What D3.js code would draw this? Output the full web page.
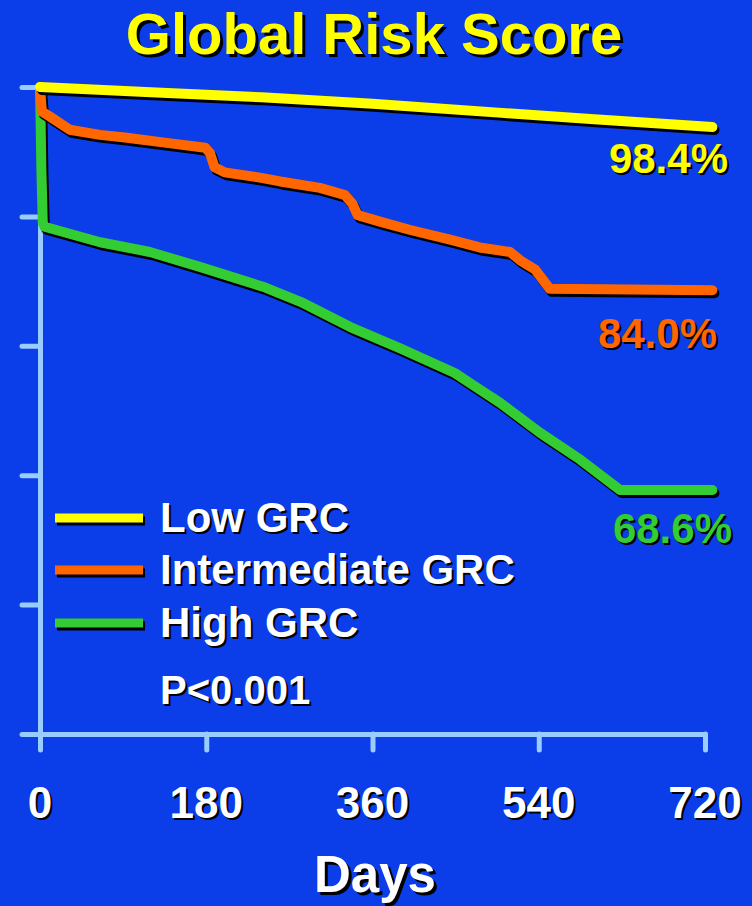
<!DOCTYPE html>
<html>
<head>
<meta charset="utf-8">
<script src="https://cdn.jsdelivr.net/npm/d3@7"></script>
<style>
  html, body { margin: 0; padding: 0; background: #0b3de8; }
  svg { display: block; }
  text { font-family: "Liberation Sans", Arial, sans-serif; font-weight: bold; }
</style>
</head>
<body>
<svg id="chart" width="752" height="906"></svg>
<script>
// ---- data (days, survival %) ----
const lowDays  = [0, 120, 240, 360, 500, 600, 728];
const lowVals  = [100, 99.6, 99.2, 98.7, 98.0, 97.5, 96.9];

const intDays  = [0, 2, 11, 32, 65, 92, 135, 179, 184, 189, 200, 238, 260, 303, 330, 338, 344, 368, 401, 444, 476, 509, 520, 536, 552, 728];
const intVals  = [100, 98.1, 97.7, 96.7, 96.3, 96.1, 95.7, 95.3, 94.9, 93.8, 93.4, 93.0, 92.7, 92.2, 91.65, 91.0, 90.1, 89.6, 88.95, 88.2, 87.6, 87.25, 86.6, 85.9, 84.4, 84.3];

const highDays = [0, 0.5, 1.5, 3, 5, 65, 119, 173, 244, 282, 336, 390, 449, 466, 498, 541, 585, 628, 728];
const highVals = [100, 98.0, 93.6, 89.5, 89.2, 88.0, 87.25, 86.1, 84.5, 83.4, 81.45, 79.8, 77.9, 77.1, 75.6, 73.3, 71.2, 68.85, 68.85];

const seriesNames  = ["Low GRC", "Intermediate GRC", "High GRC"];
const seriesColors = ["#ffff00", "#ff6600", "#33cc33"];
const endLabels    = ["98.4%", "84.0%", "68.6%"];

const xTicks = [0, 180, 360, 540, 720];
const yTicks = [50, 60, 70, 80, 90, 100];

const titleText = "Global Risk Score";
const xTitle = "Days";
const pText = "P<0.001";

// ---- drawing ----
const svg = d3.select("#chart");
const x = d3.scaleLinear().domain([0, 720]).range([40, 705]);
const y = d3.scaleLinear().domain([50, 100]).range([734, 87]);
const axisColor = "#99ccff";

function shadowText(g, txt, px, py, size, fill, anchor, off) {
  off = off || 2;
  g.append("text").attr("x", px + off).attr("y", py + off)
    .attr("font-size", size).attr("text-anchor", anchor).attr("fill", "#000").text(txt);
  g.append("text").attr("x", px).attr("y", py)
    .attr("font-size", size).attr("text-anchor", anchor).attr("fill", fill).text(txt);
}

// title
shadowText(svg, titleText, 374, 54, 58, "#ffff00", "middle", 3);

// axes
const yAxis = d3.axisLeft(y).tickValues(yTicks).tickSize(18).tickSizeOuter(0).tickFormat("");
const gy = svg.append("g").attr("transform", "translate(40,0)").call(yAxis);
const xAxis = d3.axisBottom(x).tickValues(xTicks).tickSize(16).tickSizeOuter(0).tickFormat("");
const gx = svg.append("g").attr("transform", "translate(0,734)").call(xAxis);
[gx, gy].forEach(g => {
  g.select(".domain").attr("stroke", axisColor).attr("stroke-width", 5).attr("stroke-linecap", "round");
  g.selectAll(".tick line").attr("stroke", axisColor).attr("stroke-width", 5).attr("stroke-linecap", "round");
});

// x tick labels
xTicks.forEach(t => shadowText(svg, String(t), x(t), 818, 44, "#ffffff", "middle", 2));
shadowText(svg, xTitle, 375, 892, 51, "#ffffff", "middle", 3);

// curves
const line = d3.line().x(d => x(d[0])).y(d => y(d[1]));
const allSeries = [
  d3.zip(lowDays, lowVals),
  d3.zip(intDays, intVals),
  d3.zip(highDays, highVals)
];
[2, 1, 0].forEach(i => {
  svg.append("path").datum(allSeries[i]).attr("d", line)
    .attr("fill", "none").attr("stroke", "#000").attr("stroke-width", 10)
    .attr("stroke-linejoin", "round").attr("stroke-linecap", "round")
    .attr("transform", "translate(2,3)");
  svg.append("path").datum(allSeries[i]).attr("d", line)
    .attr("fill", "none").attr("stroke", seriesColors[i]).attr("stroke-width", 10)
    .attr("stroke-linejoin", "round").attr("stroke-linecap", "round");
});

// end labels
const endPos = [[728, 173], [717, 348], [732, 543]];
endLabels.forEach((t, i) => shadowText(svg, t, endPos[i][0], endPos[i][1], 42, seriesColors[i], "end", 2));

// legend
const legY = [518, 570, 623];
seriesNames.forEach((n, i) => {
  svg.append("line").attr("x1", 57).attr("x2", 145).attr("y1", legY[i] + 3).attr("y2", legY[i] + 3)
    .attr("stroke", "#000").attr("stroke-width", 9);
  svg.append("line").attr("x1", 55).attr("x2", 143).attr("y1", legY[i]).attr("y2", legY[i])
    .attr("stroke", seriesColors[i]).attr("stroke-width", 9);
  shadowText(svg, n, 160, legY[i] + 14, 42, "#ffffff", "start", 2);
});
shadowText(svg, pText, 160, 704, 40, "#ffffff", "start", 2);
</script>
</body>
</html>
